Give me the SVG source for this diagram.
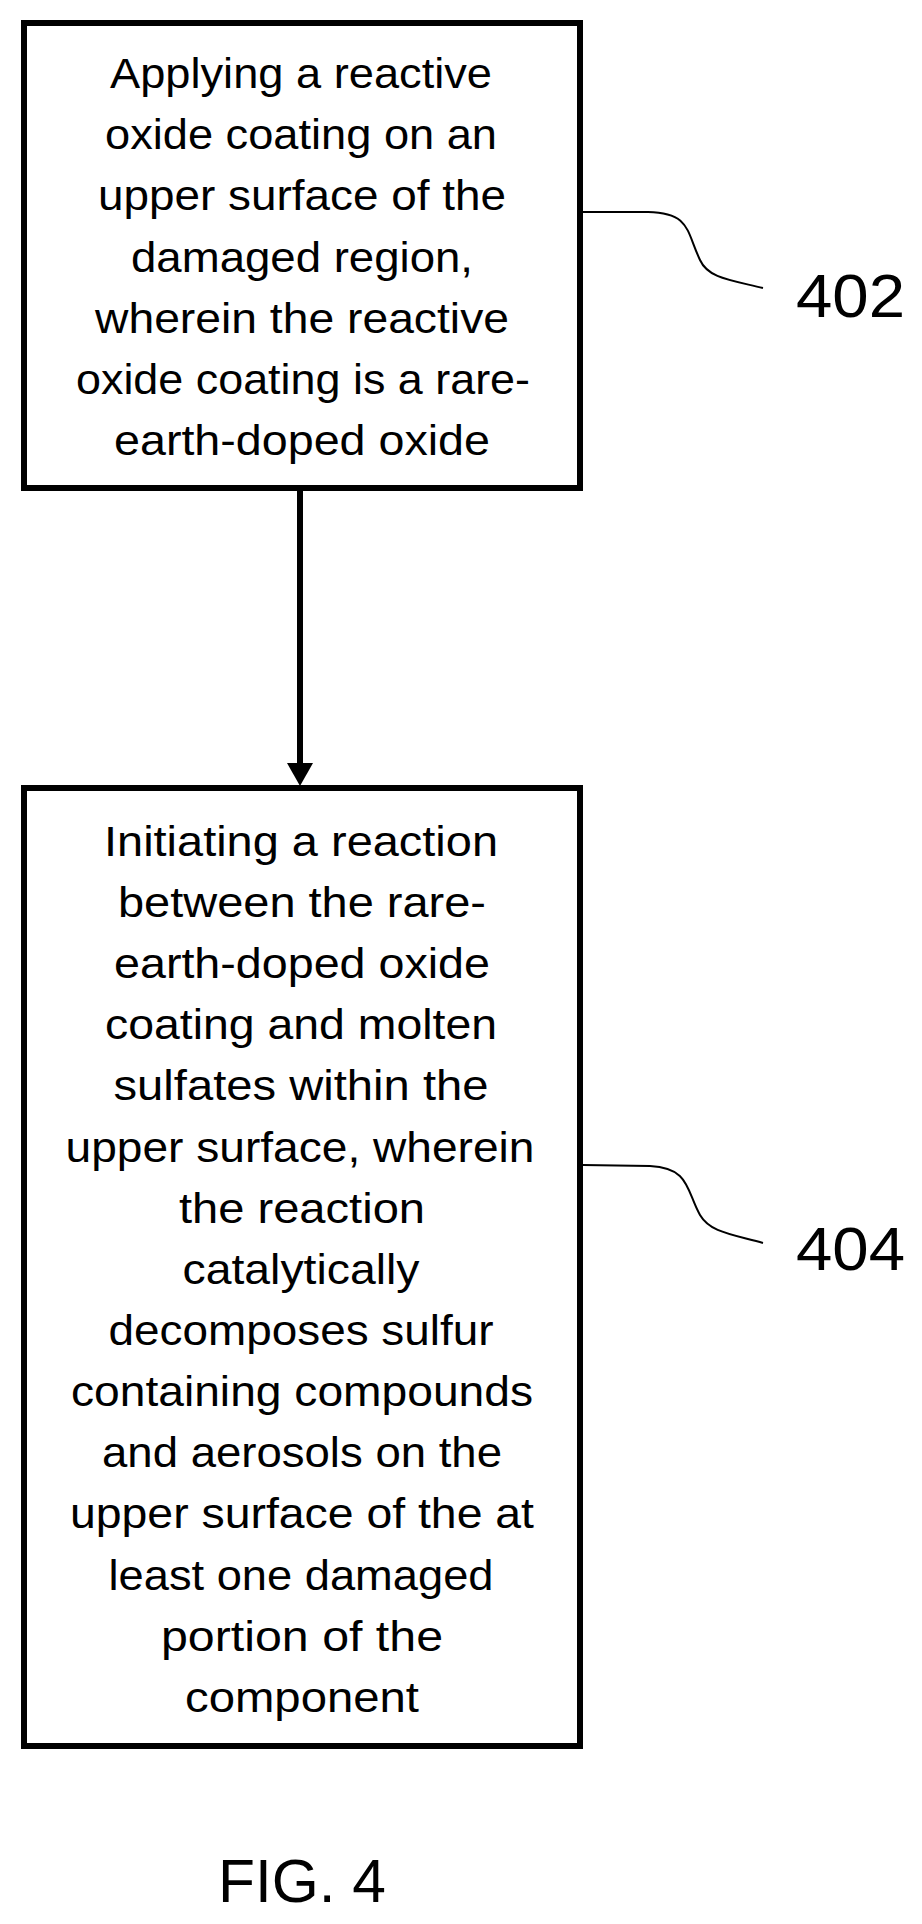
<svg xmlns="http://www.w3.org/2000/svg" width="922" height="1924" viewBox="0 0 922 1924">
<style>
.box{fill:#fff;stroke:#000;stroke-width:6}
.t{font-family:"Liberation Sans",Arial,sans-serif;font-size:42px;text-anchor:middle;fill:#000}
.lbl{font-family:"Liberation Sans",Arial,sans-serif;font-size:62px;fill:#000}
.lead{fill:none;stroke:#000;stroke-width:2}
</style>
<rect width="922" height="1924" fill="#fff"/>
<g id="connectors">
<line x1="300" y1="488" x2="300" y2="765" stroke="#000" stroke-width="6"/>
<polygon points="287,763 313,763 300,786" fill="#000"/>
<path class="lead" d="M583,212 L648,212 C690,213 686,230 700,260 C708,278 730,280 763,288"/>
<path class="lead" d="M583,1165 L650,1166 C690,1168 686,1190 700,1215 C710,1232 730,1234 763,1243"/>
</g>
<g id="node402">
<rect class="box" x="24" y="23" width="556" height="465"/>
<text class="t" x="301" y="88" textLength="382" lengthAdjust="spacingAndGlyphs">Applying a reactive</text>
<text class="t" x="301" y="149" textLength="392" lengthAdjust="spacingAndGlyphs">oxide coating on an</text>
<text class="t" x="302" y="210" textLength="408" lengthAdjust="spacingAndGlyphs">upper surface of the</text>
<text class="t" x="302" y="272" textLength="342" lengthAdjust="spacingAndGlyphs">damaged region,</text>
<text class="t" x="302" y="333" textLength="414" lengthAdjust="spacingAndGlyphs">wherein the reactive</text>
<text class="t" x="303" y="394" textLength="454" lengthAdjust="spacingAndGlyphs">oxide coating is a rare-</text>
<text class="t" x="302" y="455" textLength="376" lengthAdjust="spacingAndGlyphs">earth-doped oxide</text>
</g>
<text class="lbl" x="796" y="317" textLength="109" lengthAdjust="spacingAndGlyphs">402</text>
<g id="node404">
<rect class="box" x="24" y="788" width="556" height="958"/>
<text class="t" x="301" y="856" textLength="394" lengthAdjust="spacingAndGlyphs">Initiating a reaction</text>
<text class="t" x="302" y="917" textLength="368" lengthAdjust="spacingAndGlyphs">between the rare-</text>
<text class="t" x="302" y="978" textLength="376" lengthAdjust="spacingAndGlyphs">earth-doped oxide</text>
<text class="t" x="301" y="1039" textLength="392" lengthAdjust="spacingAndGlyphs">coating and molten</text>
<text class="t" x="301" y="1100" textLength="375" lengthAdjust="spacingAndGlyphs">sulfates within the</text>
<text class="t" x="300" y="1162" textLength="469" lengthAdjust="spacingAndGlyphs">upper surface, wherein</text>
<text class="t" x="302" y="1223" textLength="246" lengthAdjust="spacingAndGlyphs">the reaction</text>
<text class="t" x="301" y="1284" textLength="237" lengthAdjust="spacingAndGlyphs">catalytically</text>
<text class="t" x="301" y="1345" textLength="385" lengthAdjust="spacingAndGlyphs">decomposes sulfur</text>
<text class="t" x="302" y="1406" textLength="462" lengthAdjust="spacingAndGlyphs">containing compounds</text>
<text class="t" x="302" y="1467" textLength="400" lengthAdjust="spacingAndGlyphs">and aerosols on the</text>
<text class="t" x="302" y="1528" textLength="464" lengthAdjust="spacingAndGlyphs">upper surface of the at</text>
<text class="t" x="301" y="1590" textLength="385" lengthAdjust="spacingAndGlyphs">least one damaged</text>
<text class="t" x="302" y="1651" textLength="282" lengthAdjust="spacingAndGlyphs">portion of the</text>
<text class="t" x="302" y="1712" textLength="234" lengthAdjust="spacingAndGlyphs">component</text>
</g>
<text class="lbl" x="796" y="1270" textLength="109" lengthAdjust="spacingAndGlyphs">404</text>
<text class="lbl" x="218" y="1902" textLength="168" lengthAdjust="spacingAndGlyphs">FIG. 4</text>
</svg>
